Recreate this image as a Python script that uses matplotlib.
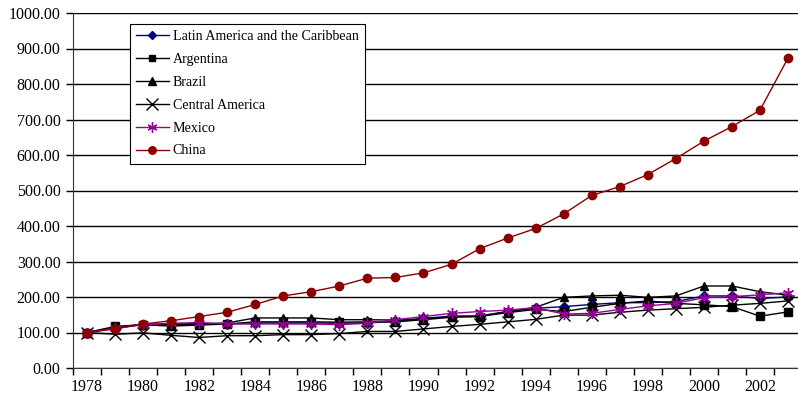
import numpy as np
import matplotlib.pyplot as plt

plt.rcParams['font.family'] = ['Liberation Serif', 'DejaVu Serif']

years = list(range(1978, 2004))

latin_america = [100, 113, 122, 124, 125, 124, 127, 127, 127, 126, 127, 131, 140,
                 146, 147, 159, 168, 173, 179, 184, 184, 187, 203, 203, 196, 200]
argentina = [100, 117, 122, 118, 121, 124, 130, 130, 130, 129, 130, 130, 136,
             143, 145, 156, 165, 159, 171, 182, 189, 182, 178, 173, 146, 158]
brazil = [100, 115, 123, 121, 124, 127, 141, 141, 141, 136, 136, 135, 138,
          145, 145, 159, 171, 199, 203, 205, 199, 203, 231, 231, 215, 205]
central_america = [100, 95, 99, 92, 86, 91, 91, 94, 94, 97, 103, 103, 110,
                   117, 123, 130, 137, 149, 149, 157, 163, 167, 171, 177, 182, 189]
mexico = [100, 112, 122, 126, 128, 124, 124, 124, 124, 122, 126, 136, 145,
          154, 159, 163, 170, 152, 154, 165, 175, 182, 198, 201, 206, 212]
china = [100, 110, 124, 133, 145, 157, 179, 203, 215, 231, 253, 255, 268,
         292, 336, 366, 393, 434, 486, 511, 545, 590, 639, 680, 726, 873]

series = [
    ("Latin America and the Caribbean", latin_america, '#000080', 'D', 5),
    ("Argentina", argentina, 'black', 's', 5.5),
    ("Brazil", brazil, 'black', '^', 6),
    ("Central America", central_america, 'black', 'x', 9),
    ("Mexico", mexico, '#990099', (6, 2, 0), 8),
    ("China", china, '#8B0000', 'o', 6),
]

fig = plt.figure(figsize=(7.98, 4.04), dpi=100)
ax = fig.add_axes([73 / 798, 36 / 404, (802 - 73) / 798, (368 - 13) / 404])

for label, vals, color, marker, ms in series:
    ax.plot(years, vals, color=color, marker=marker, markersize=ms, linewidth=1.0,
            markeredgecolor=color, markerfacecolor=color, markeredgewidth=1.0,
            label=label, clip_on=False)

ax.set_ylim(0, 1000)
ax.set_xlim(1977.5, 2003.5)
ax.set_yticks(np.arange(0, 1001, 100))
ax.set_yticklabels([f"{v:.2f}" for v in np.arange(0, 1001, 100)], fontsize=11.5)
# ticks between categories, labels on every other year
ax.set_xticks(np.arange(1977.5, 2004, 1))
ax.set_xticklabels([])
ax.set_xticks(range(1978, 2004, 2), minor=True)
ax.set_xticklabels([str(y) for y in range(1978, 2004, 2)], minor=True, fontsize=11.5)
ax.tick_params(axis='x', which='minor', length=0, pad=8)
ax.tick_params(axis='x', which='major', length=5, direction='out', width=1)
ax.tick_params(axis='y', length=5, direction='out', width=1, pad=4)

ax.grid(axis='y', color='black', linewidth=1.0)
ax.set_axisbelow(True)
for s in ['top', 'right']:
    ax.spines[s].set_visible(False)
ax.spines['left'].set_color('#333333')
ax.spines['bottom'].set_color('#333333')

leg = ax.legend(loc='upper left', bbox_to_anchor=(130 / 798, 1 - 24 / 404),
                bbox_transform=fig.transFigure, borderaxespad=0, fontsize=10.1,
                frameon=True, fancybox=False, edgecolor='black', framealpha=1,
                handlelength=2.3, handletextpad=0.3, borderpad=0.45,
                labelspacing=0.7, markerscale=0.9)
leg.get_frame().set_linewidth(0.8)

fig.savefig('out.png', dpi=100)
